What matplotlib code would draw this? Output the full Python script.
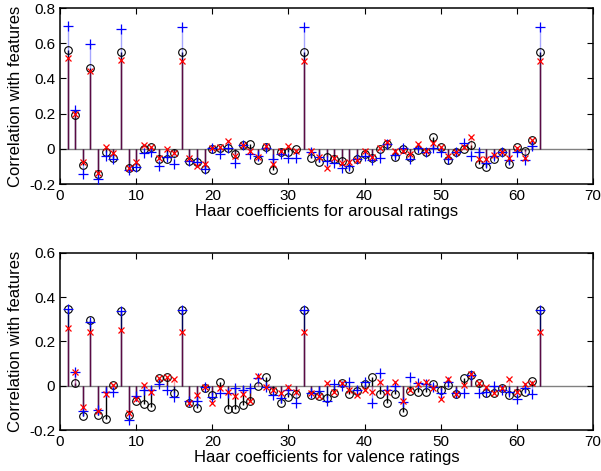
import numpy as np
import matplotlib
matplotlib.use('Agg')
import matplotlib.pyplot as plt

plt.rcParams['font.family'] = ['Liberation Sans', 'DejaVu Sans']

idx = np.arange(1, 64)

# Arousal panel: three feature sets (black circles, blue plus, red x)
arousal_circle = [0.564, 0.194, -0.09, 0.462, -0.14, -0.017, -0.049, 0.553, -0.106, -0.10,
                  0.0, 0.01, -0.057, -0.057, -0.025, 0.55, -0.069, -0.072, -0.112, 0.0,
                  0.008, 0.004, -0.03, 0.023, 0.03, -0.065, 0.011, -0.118, -0.019, -0.019,
                  -0.002, 0.55, -0.05, -0.072, -0.044, -0.055, -0.069, -0.116, -0.059, -0.03,
                  -0.05, -0.002, 0.03, -0.044, -0.002, -0.044, -0.008, -0.015, 0.065, 0.013,
                  -0.063, -0.017, -0.002, 0.023, -0.084, -0.103, -0.055, -0.015, -0.088, 0.013,
                  -0.011, 0.05, 0.55]
arousal_plus = [0.70, 0.22, -0.143, 0.598, -0.17, -0.04, -0.055, 0.68, -0.119, -0.10,
                -0.023, -0.017, -0.097, -0.044, -0.088, 0.69, -0.069, -0.077, -0.116, 0.006,
                -0.03, 0.008, -0.078, 0.023, -0.027, -0.04, 0.008, -0.055, -0.027, -0.05,
                -0.05, 0.69, -0.02, -0.044, -0.069, -0.078, -0.107, -0.097, -0.059, -0.04,
                -0.065, -0.05, 0.027, -0.034, 0.004, -0.055, 0.008, -0.017, 0.008, -0.02,
                -0.059, -0.02, 0.036, -0.04, -0.015, -0.078, -0.04, -0.02, -0.063, -0.02,
                -0.063, 0.017, 0.69]
arousal_x = [0.517, 0.196, -0.072, 0.44, -0.134, 0.011, -0.021, 0.507, -0.106, -0.072,
             0.025, 0.01, -0.053, 0.0, -0.023, 0.50, -0.05, -0.097, -0.088, 0.008,
             0.013, 0.046, -0.04, 0.023, -0.011, -0.044, 0.017, -0.088, -0.011, 0.017,
             -0.011, 0.50, -0.011, -0.044, -0.107, -0.05, -0.078, -0.075, -0.063, -0.011,
             -0.044, 0.008, 0.042, -0.011, -0.011, -0.03, 0.027, -0.011, 0.036, 0.013,
             -0.04, -0.017, 0.013, 0.065, -0.059, -0.059, -0.034, -0.015, -0.053, 0.004,
             -0.05, 0.05, 0.50]

# Valence panel
valence_circle = [0.346, 0.011, -0.138, 0.295, -0.133, -0.148, 0.003, 0.336, -0.133, -0.07,
                  -0.083, -0.095, 0.033, 0.038, -0.035, 0.34, -0.08, -0.10, -0.008, -0.042,
                  0.015, -0.103, -0.103, -0.085, -0.068, -0.002, 0.04, -0.024, -0.08, -0.05,
                  -0.038, 0.34, -0.042, -0.047, -0.057, -0.035, 0.011, -0.039, -0.023, 0.008,
                  0.04, -0.039, -0.076, -0.039, -0.118, -0.023, -0.03, -0.03, 0.008, -0.017,
                  0.003, -0.038, 0.033, 0.048, 0.011, -0.032, -0.035, -0.008, -0.042, -0.035,
                  -0.027, 0.021, 0.34]
valence_plus = [0.346, 0.06, -0.115, 0.29, -0.11, -0.027, -0.027, 0.339, -0.153, -0.047,
                -0.017, -0.017, 0.01, -0.017, -0.053, 0.34, -0.068, -0.068, -0.005, -0.05,
                -0.035, -0.035, -0.012, -0.017, -0.008, 0.033, -0.005, -0.042, -0.056, -0.02,
                -0.077, 0.34, -0.035, -0.023, -0.068, 0.008, -0.002, 0.018, -0.017, 0.018,
                -0.077, 0.056, -0.017, -0.002, -0.073, 0.038, 0.014, 0.008, -0.005, -0.035,
                0.018, -0.035, -0.035, 0.048, -0.035, -0.027, -0.002, -0.02, -0.027, -0.062,
                -0.012, -0.039, 0.34]
valence_x = [0.26, 0.064, -0.095, 0.242, -0.113, -0.038, 0.003, 0.253, -0.123, -0.062,
             0.003, -0.03, 0.033, 0.038, 0.029, 0.245, -0.077, -0.042, -0.005, -0.077,
             -0.012, -0.027, -0.047, -0.038, -0.068, 0.045, -0.005, -0.02, -0.035, -0.005,
             -0.027, 0.245, -0.032, -0.047, 0.011, -0.027, 0.011, -0.017, -0.042, -0.017,
             -0.027, 0.015, -0.03, 0.015, -0.068, -0.017, 0.008, 0.018, -0.012, -0.062,
             0.029, -0.038, 0.003, 0.053, 0.011, -0.005, -0.035, -0.008, 0.03, -0.03,
             0.008, 0.014, 0.245]

xticks = [0, 10, 20, 30, 40, 50, 60, 70]


def draw_panel(ax, circ, plus, cross, yticks, xlabel):
    ax.axhline(0, color='#808080', linewidth=1.0, zorder=1)
    # stems: black, blue, red drawn on top of each other -> dark maroon where they overlap
    ax.vlines(idx, 0, circ, color='black', linewidth=1.0, zorder=2)
    ax.vlines(idx, 0, plus, color=(0, 0, 1, 0.35), linewidth=1.0, zorder=3)
    ax.vlines(idx, 0, cross, color=(0.9, 0.1, 0.15, 0.4), linewidth=1.0, zorder=4)
    ax.plot(idx, circ, linestyle='none', marker='o', markersize=5.5,
            markerfacecolor='none', markeredgecolor='black', markeredgewidth=0.8, zorder=5)
    ax.plot(idx, plus, linestyle='none', marker='+', markersize=6.5,
            color='blue', markeredgewidth=0.9, zorder=6)
    ax.plot(idx, cross, linestyle='none', marker='x', markersize=4,
            color='red', markeredgewidth=0.9, zorder=7)
    ax.set_xlim(0, 70)
    ax.set_ylim(yticks[0], yticks[-1])
    ax.set_xticks(xticks)
    ax.set_xticklabels([str(t) for t in xticks])
    ax.set_yticks(yticks)
    ax.set_yticklabels(['0' if abs(t) < 1e-9 else '%g' % t for t in yticks])
    ax.tick_params(direction='in', top=True, right=True, labelsize=11, length=4, width=0.8)
    for s in ax.spines.values():
        s.set_linewidth(1.1)
    ax.set_ylabel('Correlation with features', fontsize=12)
    ax.set_xlabel(xlabel, fontsize=12, labelpad=1)


fig = plt.figure(figsize=(6.01, 4.71), dpi=100)
ax1 = fig.add_axes([0.0998, 0.609, 0.887, 0.374])
ax2 = fig.add_axes([0.0998, 0.087, 0.887, 0.376])

draw_panel(ax1, arousal_circle, arousal_plus, arousal_x,
           [-0.2, 0, 0.2, 0.4, 0.6, 0.8], 'Haar coefficients for arousal ratings')
draw_panel(ax2, valence_circle, valence_plus, valence_x,
           [-0.2, 0, 0.2, 0.4, 0.6], 'Haar coefficients for valence ratings')

fig.savefig('out.png', dpi=100)
